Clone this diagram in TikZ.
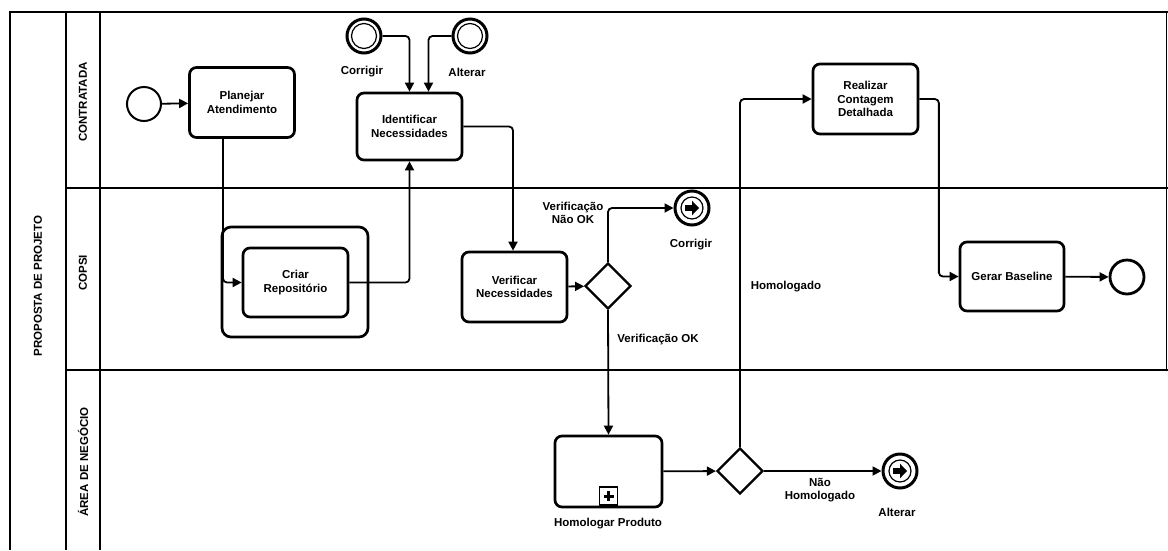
\documentclass[tikz,border=0pt]{standalone}
\usepackage{fontspec}
\setmainfont{Liberation Sans}
\usetikzlibrary{arrows.meta,shapes.geometric,calc}
\begin{document}
\begin{tikzpicture}[x=1pt,y=-1pt,
  task/.style={draw,line width=2.7pt,rounded corners=7pt,minimum width=105pt,minimum height=70pt,align=center,font=\fontsize{11.5}{13.5}\selectfont\bfseries,inner sep=2pt},
  flow/.style={line width=1.8pt,-{Triangle[length=9pt,width=9pt]},rounded corners=4pt},
  gw/.style={draw,diamond,line width=2.4pt,minimum width=46pt,minimum height=46pt,inner sep=0pt},
  startev/.style={draw,circle,line width=2pt,minimum size=34pt,inner sep=0pt},
  endev/.style={draw,circle,line width=3pt,minimum size=34pt,inner sep=0pt},
  interev/.style={draw,circle,line width=3pt,minimum size=34pt,inner sep=0pt},
  lbl/.style={font=\fontsize{11.5}{13}\selectfont\bfseries,align=center,inner sep=1pt},
  lanelbl/.style={font=\fontsize{11.5}{13}\selectfont\bfseries,rotate=90,inner sep=1pt},
  pline/.style={line width=2pt}
]
\useasboundingbox (0,0) rectangle (1168,550);
% pool and lanes
\draw[pline] (1168,12) -- (10,12) -- (10,550);
\draw[pline] (66,12) -- (66,550);
\draw[pline] (100,12) -- (100,550);
\draw[pline] (66,188) -- (1168,188);
\draw[pline] (66,370) -- (1168,370);
\draw[line width=0.7pt] (1166,12) -- (1166,370);
\node[lanelbl] (pool) at (38,286) {PROPOSTA DE PROJETO};
\node[lanelbl] (l1) at (83,102) {CONTRATADA};
\node[lanelbl] (l2) at (83,273) {COPSI};
\node[lanelbl] (l3) at (83,462) {ÁREA DE NEGÓCIO};

% events
\node[startev] (start) at (144,104) {};
\node[interev] (evc) at (364,36) {};
\draw[line width=1.2pt] (evc) circle (12.5pt);
\node[lbl] (evcl) at (362,72) {Corrigir};
\node[interev] (eva) at (470,36) {};
\draw[line width=1.2pt] (eva) circle (12.5pt);
\node[lbl] (eval) at (467,72) {Alterar};

% tasks
\node[task] (plan) at (242,102.5) {Planejar\\Atendimento};
\node[task,minimum height=67pt] (ident) at (409.5,126.5) {Identificar\\Necessidades};
\node[draw,line width=2.7pt,rounded corners=9pt,minimum width=146pt,minimum height=110pt] (grp) at (295,282) {};
\node[task,minimum height=69pt] (criar) at (295.5,282.5) {Criar\\Repositório};
\node[task] (verif) at (514.5,287) {Verificar\\Necessidades};
\node[gw] (gw1) at (608,286) {};
\node[endev] (endc) at (692,208) {};
\draw[line width=1.2pt] (endc) circle (11pt);
\fill ($(endc)+(-7,-2.8)$) -- ++(7,0) -- ++(0,-4.5) -- ++(7,7.3) -- ++(-7,7.3) -- ++(0,-4.5) -- ++(-7,0) -- cycle;
\node[lbl] (endcl) at (691,245) {Corrigir};
\node[lbl] (gw1no) at (573,213) {Verificação\\Não OK};
\node[lbl] (gw1ok) at (658,340) {Verificação OK};

\node[task,minimum width=107pt,minimum height=71pt] (homo) at (608.5,471.5) {};
\node[draw,line width=1.8pt,minimum size=18pt,inner sep=0pt] (plus) at (608.5,496) {};
\draw[line width=3pt] ($(plus)+(-5,0)$) -- ($(plus)+(5,0)$);
\draw[line width=3pt] ($(plus)+(0,-5)$) -- ($(plus)+(0,5)$);
\node[lbl] (homol) at (608,524) {Homologar Produto};
\node[gw] (gw2) at (740,471) {};
\node[endev] (enda) at (900,471) {};
\draw[line width=1.2pt] (enda) circle (11pt);
\fill ($(enda)+(-7,-2.8)$) -- ++(7,0) -- ++(0,-4.5) -- ++(7,7.3) -- ++(-7,7.3) -- ++(0,-4.5) -- ++(-7,0) -- cycle;
\node[lbl] (endal) at (897,512) {Alterar};
\node[lbl] (gw2no) at (820,490) {Não\\Homologado};
\node[lbl] (gw2ok) at (786,287) {Homologado};

\node[task] (real) at (865.5,99) {Realizar\\Contagem\\Detalhada};
\node[task,minimum width=104pt,minimum height=69pt] (gerar) at (1012,276.5) {Gerar Baseline};
\node[endev,line width=2.8pt] (endf) at (1127,277) {};

% flows
\draw[flow] (start) -- (plan);
\draw[flow] (evc.east) -| (ident.north);
\draw[flow] (eva.west) -| ([xshift=19pt]ident.north);
\draw[flow] ([xshift=-19pt]plan.south) |- (criar.west);
\draw[flow] (criar.east) -| (ident.south);
\draw[flow] (ident.east) -| ([xshift=-1.5pt]verif.north);
\draw[flow] (verif) -- (gw1);
\draw[flow] (gw1.north) |- (endc);
\draw[flow] (gw1.south) -- (homo.north);
\draw[flow] (homo) -- (gw2);
\draw[flow] (gw2) -- (enda);
\draw[flow] (gw2.north) |- (real.west);
\draw[flow] (real.east) -- ++(19.5,0) |- (gerar.west);
\draw[flow] (gerar) -- (endf);
\end{tikzpicture}
\end{document}
